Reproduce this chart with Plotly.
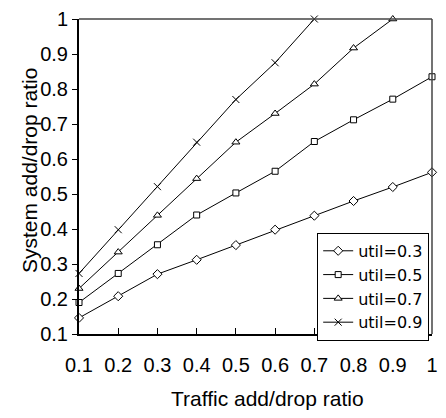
import plotly.graph_objects as go

traffic_ratio = [0.1, 0.2, 0.3, 0.4, 0.5, 0.6, 0.7, 0.8, 0.9, 1.0]

util_03 = [0.146, 0.208, 0.271, 0.312, 0.354, 0.398, 0.438, 0.480, 0.520, 0.562]
util_05 = [0.190, 0.273, 0.355, 0.440, 0.503, 0.565, 0.650, 0.712, 0.771, 0.835]
util_07 = [0.230, 0.334, 0.439, 0.544, 0.648, 0.730, 0.814, 0.917, 1.000]
util_09 = [0.273, 0.398, 0.521, 0.648, 0.770, 0.875, 1.000]

series_names = ["util=0.3", "util=0.5", "util=0.7", "util=0.9"]
series_values = [util_03, util_05, util_07, util_09]
symbols = ["diamond", "square", "triangle-up", "x-thin"]
sizes = [7, 6, 7, 7]

tick_vals = [0.1, 0.2, 0.3, 0.4, 0.5, 0.6, 0.7, 0.8, 0.9, 1.0]
tick_text = ["0.1", "0.2", "0.3", "0.4", "0.5", "0.6", "0.7", "0.8", "0.9", "1"]

x_title = "Traffic add/drop ratio"
y_title = "System add/drop ratio"

FONT = "Liberation Sans, Arial, sans-serif"

fig = go.Figure()
for name, vals, sym, sz in zip(series_names, series_values, symbols, sizes):
    fig.add_trace(go.Scatter(
        x=traffic_ratio[:len(vals)], y=vals, name=name,
        mode="lines+markers",
        line=dict(color="black", width=1),
        marker=dict(symbol=sym, size=sz, color="white" if sym != "x-thin" else "black",
                    line=dict(color="black", width=1)),
        cliponaxis=False,
    ))

fig.update_layout(
    width=446, height=418,
    margin=dict(l=79, r=8, t=10, b=84),
    paper_bgcolor="white", plot_bgcolor="white",
    font=dict(family=FONT, size=20, color="black"),
    showlegend=True,
    legend=dict(x=0.992, y=0.321, xanchor="right", yanchor="top",
                bordercolor="black", borderwidth=1, bgcolor="white",
                font=dict(family="DejaVu Sans, sans-serif", size=16, color="black"),
                itemwidth=30),
    xaxis=dict(range=[0.1, 1.0], tickvals=tick_vals, ticktext=tick_text,
               showgrid=False, zeroline=False, showline=True, linecolor="black",
               linewidth=2, ticks="inside", ticklen=6, tickcolor="black",
               ticklabelstandoff=12, ticklabeloverflow="allow"),
    yaxis=dict(range=[0.1, 1.0], tickvals=tick_vals, ticktext=tick_text,
               showgrid=False, zeroline=False, showline=True, linecolor="black",
               linewidth=2, ticks="outside", ticklen=5, tickcolor="black",
               ticklabeloverflow="allow"),
    shapes=[
        dict(type="line", xref="paper", yref="paper", x0=0, x1=1, y0=1, y1=1,
             line=dict(color="#444444", width=1.5)),
        dict(type="line", xref="paper", yref="paper", x0=1, x1=1, y0=0, y1=1,
             line=dict(color="#444444", width=1.5)),
    ],
    annotations=[
        dict(text=x_title, xref="paper", yref="paper", x=0.535, y=-0.205,
             xanchor="center", yanchor="middle", showarrow=False,
             font=dict(family=FONT, size=21)),
        dict(text=y_title, xref="paper", yref="paper", x=-0.142, y=0.52,
             xanchor="center", yanchor="middle", showarrow=False, textangle=-90,
             font=dict(family=FONT, size=21)),
    ],
)

fig.write_html("out.html")
